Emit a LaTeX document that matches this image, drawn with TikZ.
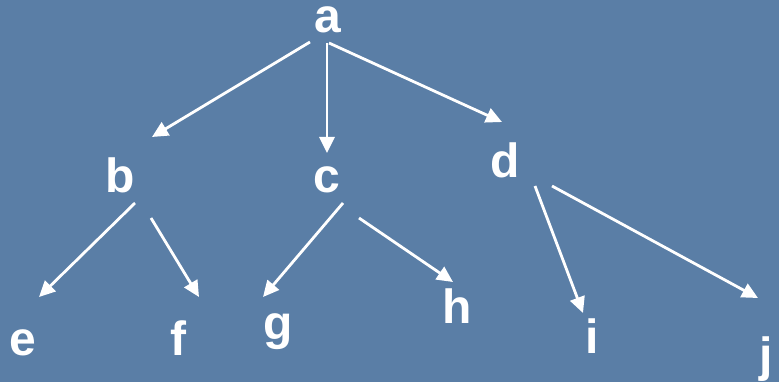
\documentclass[tikz,border=0pt]{standalone}
\usepackage{fontspec}
\setmainfont{Liberation Sans}
\usetikzlibrary{arrows.meta}
\definecolor{slate}{RGB}{90,126,166}
\begin{document}
\begin{tikzpicture}[x=1pt,y=-1pt,
  letter/.style={anchor=base,inner sep=0pt,text=white,font=\fontsize{48}{48}\selectfont\bfseries},
  edge/.style={draw=white,line width=2.8pt,-{Triangle[length=16pt,width=15pt]}}]
  % background
  \fill[slate] (0,0) rectangle (779,382);
  \useasboundingbox (0,0) rectangle (779,382);
  % tree letters
  \node[letter] (a) at (328,33) {a};
  \node[letter] (b) at (120,193) {b};
  \node[letter] (c) at (327,193) {c};
  \node[letter] (d) at (505,178) {d};
  \node[letter] (e) at (23,355) {e};
  \node[letter] (f) at (178,355) {f};
  \node[letter] (g) at (278,339) {g};
  \node[letter] (h) at (457,323) {h};
  \node[letter] (i) at (592,353) {i};
  \node[letter] (j) at (766,371) {j};
  % arrow end points
  \coordinate (ab1) at (310,42);  \coordinate (ab2) at (152,137);
  \coordinate (ac1) at (327,43);  \coordinate (ac2) at (327,153);
  \coordinate (ad1) at (329,43);  \coordinate (ad2) at (502,122);
  \coordinate (be1) at (135,203); \coordinate (be2) at (39,297);
  \coordinate (bf1) at (151,218); \coordinate (bf2) at (199,297);
  \coordinate (cg1) at (343,203); \coordinate (cg2) at (263,297);
  \coordinate (ch1) at (359,218); \coordinate (ch2) at (453,282);
  \coordinate (di1) at (535,186); \coordinate (di2) at (583,313);
  \coordinate (dj1) at (552,186); \coordinate (dj2) at (758,298);
  % edges
  \draw[edge] (ab1) -- (ab2);
  \draw[edge] (ac1) -- (ac2);
  \draw[edge] (ad1) -- (ad2);
  \draw[edge] (be1) -- (be2);
  \draw[edge] (bf1) -- (bf2);
  \draw[edge] (cg1) -- (cg2);
  \draw[edge] (ch1) -- (ch2);
  \draw[edge] (di1) -- (di2);
  \draw[edge] (dj1) -- (dj2);
\end{tikzpicture}
\end{document}
